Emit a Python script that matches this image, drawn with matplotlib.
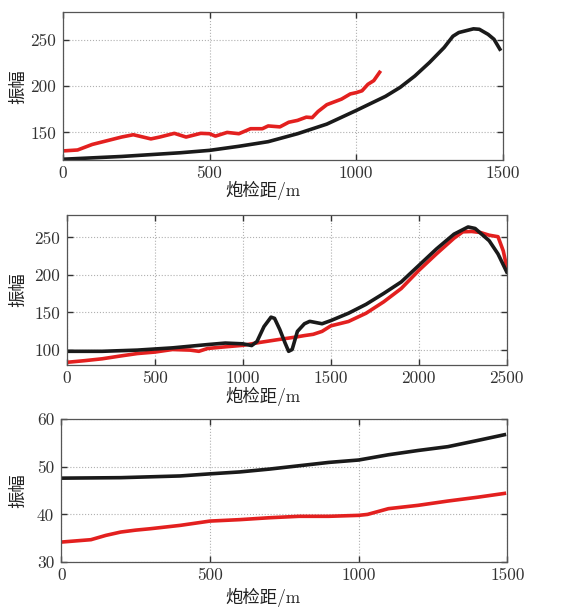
import numpy as np
import matplotlib.pyplot as plt

plt.rcParams['font.family'] = ['cmr10', 'Noto Sans CJK SC', 'DejaVu Sans']
plt.rcParams['axes.unicode_minus'] = False

RED = '#e3201f'
BLACK = '#1a1a1a'

# panel 1
x1_red = [0, 50, 100, 150, 200, 240, 300, 330, 380, 420, 470, 500, 520, 560, 600, 640,
          680, 700, 740, 770, 800, 830, 850, 870, 900, 950, 980, 1000, 1020, 1040, 1060, 1080]
y1_red = [130, 131, 137, 141, 145, 147.5, 143, 145, 149, 145, 149, 148.6, 146, 150, 148.6, 154,
          154, 157, 156, 161, 163, 166.5, 166, 172.6, 180, 186, 191.6, 193, 195, 202, 206, 215]
x1_blk = [0, 200, 300, 400, 500, 600, 700, 800, 900, 1000, 1100, 1150, 1200, 1250, 1300,
          1330, 1350, 1400, 1420, 1450, 1470, 1490]
y1_blk = [121, 124, 126, 128, 130.6, 135, 140, 148.6, 159, 173.7, 189, 198.7, 211, 225.6, 241.8,
          254, 258, 262, 261.5, 256, 250.7, 240]

# panel 2
x2_blk = [0, 200, 400, 600, 800, 900, 1000, 1050, 1080, 1120, 1160, 1180, 1210, 1240, 1260, 1280,
          1310, 1350, 1380, 1450, 1500, 1600, 1700, 1800, 1900, 2000, 2100, 2200, 2280, 2320,
          2400, 2450, 2500]
y2_blk = [98, 98, 99.6, 102.6, 107, 109, 108, 105.7, 111, 131, 143.6, 142, 127, 109, 98, 100.4,
          124.6, 134.8, 138, 134.8, 139, 148.8, 160.7, 175.2, 190.6, 212.6, 234.6, 254.4, 264, 262,
          245.6, 228, 203.8]
x2_red = [0, 100, 200, 300, 400, 500, 600, 700, 750, 800, 900, 1000, 1100, 1200, 1300, 1350,
          1400, 1450, 1500, 1600, 1700, 1800, 1900, 2000, 2100, 2200, 2250, 2300, 2350, 2400,
          2450, 2480, 2500]
y2_red = [83.3, 85.5, 88, 91.6, 95, 97, 100.4, 99.6, 98, 101.8, 104, 106, 110, 113.6, 117, 119,
          120.7, 124.6, 132, 137.8, 148.8, 164, 181.8, 206, 228, 249, 257.5, 258, 256.6, 253,
          251, 232, 210]

# panel 3
x3_blk = [0, 200, 400, 500, 600, 700, 800, 900, 1000, 1100, 1200, 1300, 1400, 1490]
y3_blk = [47.6, 47.7, 48.06, 48.5, 48.9, 49.5, 50.2, 50.9, 51.4, 52.5, 53.4, 54.2, 55.5, 56.7]
x3_red = [0, 100, 150, 200, 250, 300, 400, 500, 600, 700, 800, 900, 1000, 1030, 1100, 1200,
          1300, 1400, 1490]
y3_red = [34.2, 34.7, 35.6, 36.3, 36.7, 37.0, 37.7, 38.6, 38.9, 39.3, 39.6, 39.6, 39.8, 40.0,
          41.2, 41.9, 42.8, 43.6, 44.4]

panels = [
    dict(rect=[0.110, 0.737, 0.769, 0.243], xlim=(0, 1500), ylim=(120, 280),
         xticks=[0, 500, 1000, 1500], yticks=[150, 200, 250],
         xlab=(0.455, -0.14), ylab=(-0.084, 0.5),
         lines=[(x1_red, y1_red, RED), (x1_blk, y1_blk, BLACK)]),
    dict(rect=[0.117, 0.401, 0.769, 0.246], xlim=(0, 2500), ylim=(80, 280),
         xticks=[0, 500, 1000, 1500, 2000, 2500], yticks=[100, 150, 200, 250],
         xlab=(0.445, -0.15), ylab=(-0.093, 0.5),
         lines=[(x2_red, y2_red, RED), (x2_blk, y2_blk, BLACK)]),
    dict(rect=[0.107, 0.077, 0.780, 0.235], xlim=(0, 1500), ylim=(30, 60),
         xticks=[0, 500, 1000, 1500], yticks=[30, 40, 50, 60],
         xlab=(0.453, -0.18), ylab=(-0.078, 0.5),
         lines=[(x3_red, y3_red, RED), (x3_blk, y3_blk, BLACK)]),
]

fig = plt.figure(figsize=(5.72, 6.09), dpi=100)

for p in panels:
    ax = fig.add_axes(p['rect'])
    for xs, ys, c in p['lines']:
        ax.plot(xs, ys, color=c, lw=2.6, solid_joinstyle='round')
    ax.set_xlim(p['xlim'])
    ax.set_ylim(p['ylim'])
    ax.set_xticks(p['xticks'])
    ax.set_yticks(p['yticks'])
    ax.grid(True, ls=':', color='#b0b0b0', lw=0.8)
    ax.tick_params(direction='in', top=True, right=True, length=4, width=1,
                   labelsize=12.5, colors='#333333')
    ax.tick_params(axis='x', pad=4)
    ax.tick_params(axis='y', pad=5)
    for s in ax.spines.values():
        s.set_color('#555555')
        s.set_linewidth(0.9)
    ax.set_xlabel('炮检距/m', fontsize=12.5, color='#222222')
    ax.set_ylabel('振幅', fontsize=12.5, color='#222222')
    ax.xaxis.set_label_coords(*p['xlab'])
    ax.yaxis.set_label_coords(*p['ylab'])

fig.savefig('out.png', dpi=100, facecolor='white')
